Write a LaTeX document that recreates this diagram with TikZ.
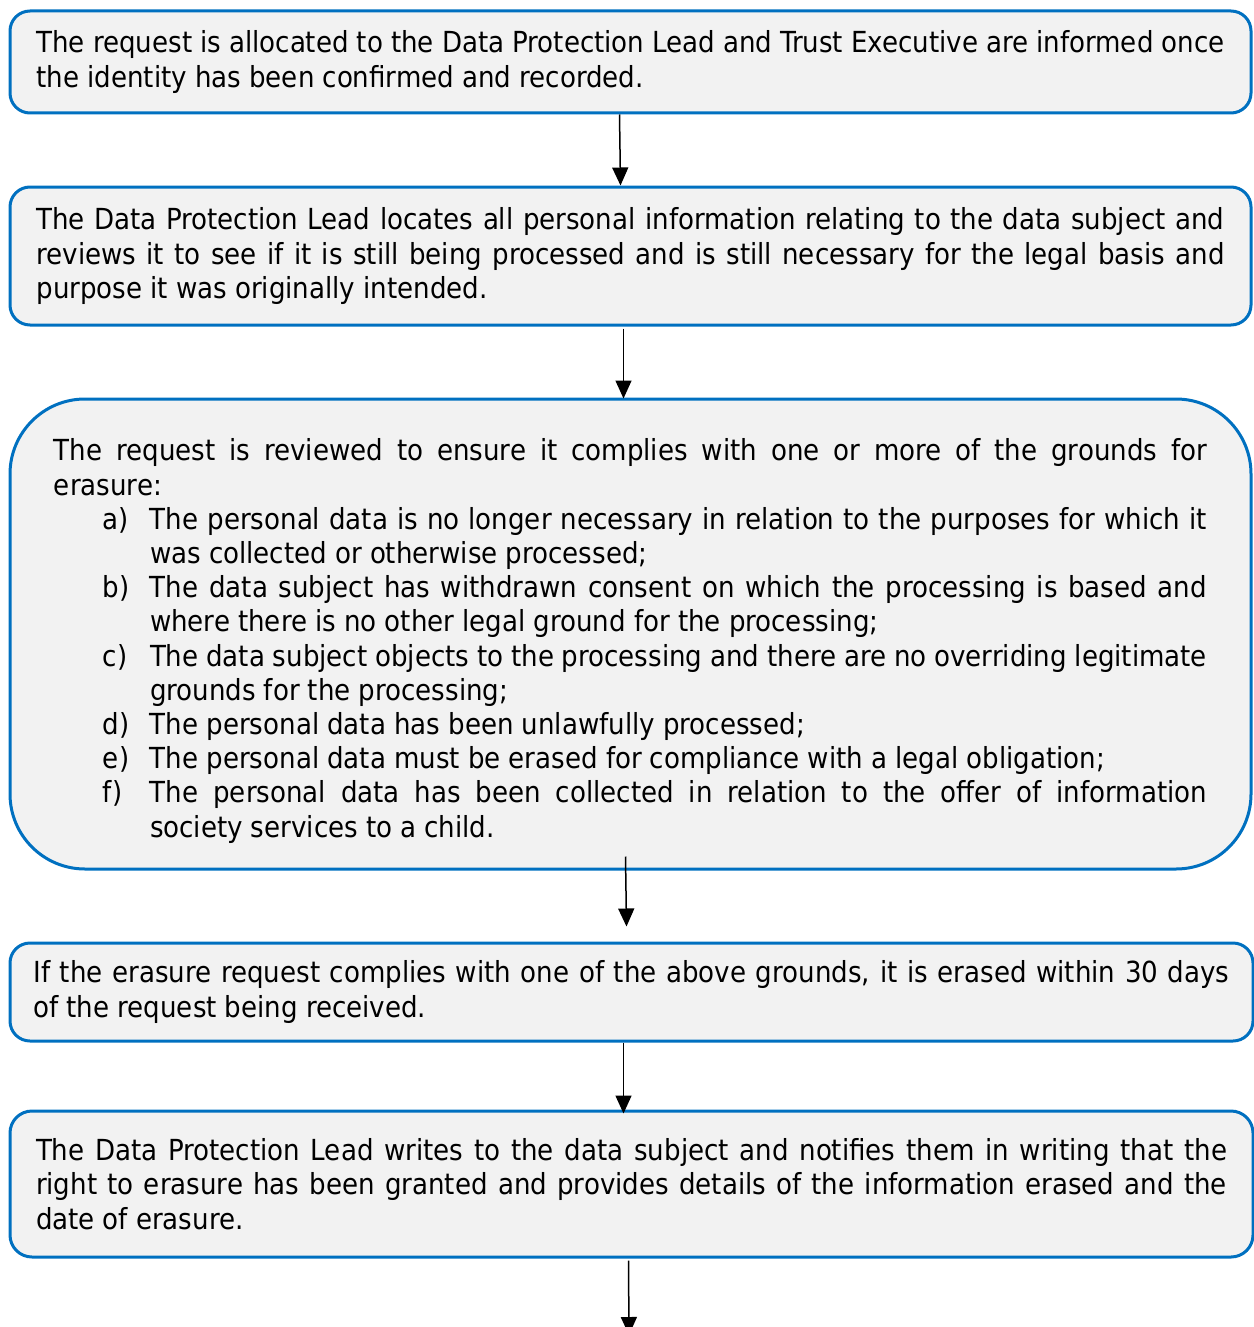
\documentclass[tikz,border=0pt]{standalone}
\usepackage{fontspec}
\setmainfont{DejaVu Sans Condensed}
\usetikzlibrary{positioning}
\usetikzlibrary{arrows.meta}
\definecolor{boxblue}{HTML}{0070C0}
\definecolor{boxgrey}{HTML}{F2F2F2}
\newcommand{\boxfont}{\fontsize{14.5}{17.1}\selectfont\hyphenpenalty=10000\relax\spaceskip=.28em plus .6em minus .08em\relax}
\newcommand{\grounditem}[2]{\par\hangindent=48pt\hangafter=0\noindent\llap{\makebox[23.5pt][l]{#1}}#2\par}
\tikzset{>={Triangle[width=8pt,length=9pt]}}
\tikzset{stepbox/.style={draw=boxblue, line width=1.5pt, fill=boxgrey, rounded corners=10pt, align=justify, inner sep=0pt, font=\boxfont}}
\tikzset{flow/.style={->, line width=0.75pt}}

\begin{document}
\begin{tikzpicture}[x=0.5pt, y=-0.5pt]
\useasboundingbox (0,0) rectangle (1253,1327);

\node[stepbox, minimum width=620.5pt, minimum height=51pt, text width=594pt] (alloc) at (630.5,62)
 {The request is allocated to the Data Protection Lead and Trust Executive are informed once\linebreak the identity has been confirmed and recorded.};

\node[stepbox, minimum width=620.5pt, minimum height=69pt, text width=594pt] (locate) at (630.5,256)
 {The Data Protection Lead locates all personal information relating to the data subject and\linebreak reviews it to see if it is still being processed and is still necessary for the legal basis and\linebreak purpose it was originally intended.};

\node[stepbox, rounded corners=37.5pt, minimum width=620.5pt, minimum height=235pt, text width=576.5pt] (review) at (630.5,634)
 {\rule{0pt}{18pt}The request is reviewed to ensure it complies with one or more of the grounds for\linebreak erasure:
 \grounditem{a)}{The personal data is no longer necessary in relation to the purposes for which it\linebreak was collected or otherwise processed;}
 \grounditem{b)}{The data subject has withdrawn consent on which the processing is based and\linebreak where there is no other legal ground for the processing;}
 \grounditem{c)}{The data subject objects to the processing and there are no overriding legitimate\linebreak grounds for the processing;}
 \grounditem{d)}{The personal data has been unlawfully processed;}
 \grounditem{e)}{The personal data must be erased for compliance with a legal obligation;}
 \grounditem{f)}{The personal data has been collected in relation to the offer of information\linebreak society services to a child.}};

\node[stepbox, minimum width=621.5pt, minimum height=49pt, text width=598pt] (erase) at (631.5,992)
 {If the erasure request complies with one of the above grounds, it is erased within 30 days\linebreak of the request being received.};

\node[stepbox, rounded corners=11pt, minimum width=621.5pt, minimum height=73pt, text width=595.5pt] (notify) at (631.5,1184)
 {The Data Protection Lead writes to the data subject and notifies them in writing that the\linebreak right to erasure has been granted and provides details of the information erased and the\linebreak date of erasure.};

\coordinate (next) at (629,1335);

\draw[flow] ([xshift=-5.5pt]alloc.south) -- ([xshift=-5pt]locate.north);
\draw[flow] ([xshift=-3.5pt, yshift=-1pt]locate.south) -- ([xshift=-3.5pt, yshift=-0.5pt]review.north);
\draw[flow] ([xshift=-2.5pt, yshift=7pt]review.south) -- ([xshift=-2.5pt, yshift=7.5pt]erase.north);
\draw[flow] ([xshift=-4pt]erase.south) -- ([xshift=-4pt, yshift=-2pt]notify.north);
\draw[flow] ([xshift=-1.5pt, yshift=-1pt]notify.south) -- (next);
\end{tikzpicture}
\end{document}
